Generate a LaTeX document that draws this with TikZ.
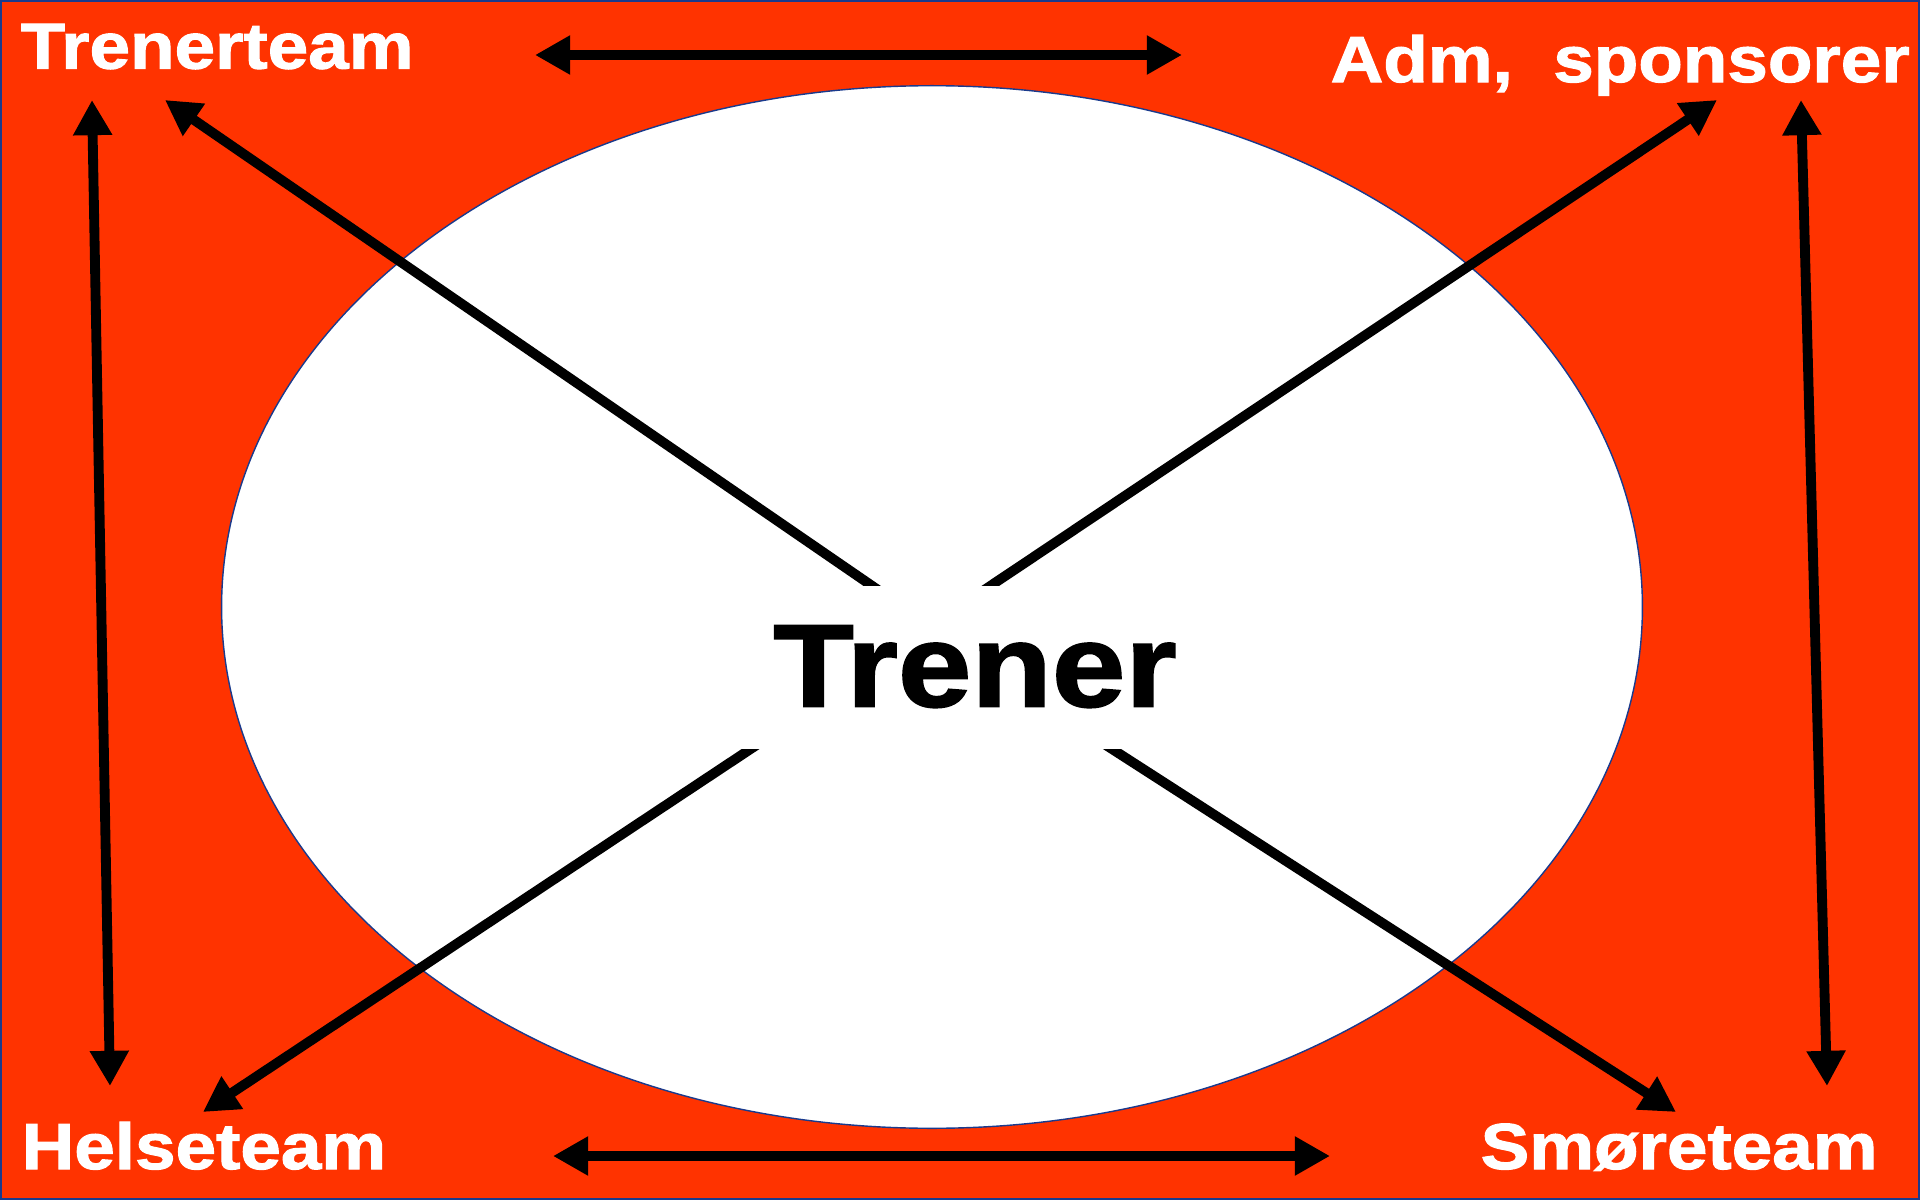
\documentclass[tikz,border=0pt]{standalone}
\usepackage{fontspec}
\newfontfamily\lab{Liberation Sans}[FakeStretch=1.12,FakeBold=1.6]
\usetikzlibrary{arrows.meta,shapes.geometric,calc}
\definecolor{bgred}{HTML}{FF3300}
\definecolor{edgeblue}{HTML}{1A3A8C}
\begin{document}
\begin{tikzpicture}[x=0.01cm,y=-0.01cm,
  tip/.tip={Triangle[length=10pt,width=10.5pt]},
  arr/.style={line width=2.8pt, tip-tip},
  one/.style={line width=2.8pt, -tip},
  lbl/.style={font=\lab\bfseries\fontsize{18.5}{20}\selectfont, text=white, inner sep=0pt},
  big/.style={font=\lab\bfseries\fontsize{33.5}{36}\selectfont, text=black, inner sep=0pt}]
\useasboundingbox (0,0) rectangle (1920,1200);
\fill[bgred, draw=edgeblue, line width=0.6pt] (1,1) rectangle (1919,1199);
\node[ellipse, minimum width=14.2cm, minimum height=10.42cm, inner sep=0pt,
      fill=white, draw=edgeblue, line width=0.4pt] (oval) at (932,607) {};
% labels
\node[lbl, anchor=base west] (trenerteam) at (20,68.6) {Trenerteam};
\node[lbl, anchor=base west] (adm) at (1330,82) {Adm,\ \ sponsorer};
\node[lbl, anchor=base west] (helse) at (21,1169) {Helseteam};
\node[lbl, anchor=base west] (smore) at (1480,1169) {Smøreteam};
% connector ends
\coordinate (t1) at (535,55);   \coordinate (t2) at (1182,55);
\coordinate (b1) at (553,1156); \coordinate (b2) at (1330,1156);
\coordinate (l1) at (92,100);   \coordinate (l2) at (110,1086);
\coordinate (r1) at (1801,100); \coordinate (r2) at (1827,1086);
\coordinate (dtl) at (165,100);  \coordinate (ctl) at (873,586.5);
\coordinate (dtr) at (1717,100); \coordinate (ctr) at (989.5,586.5);
\coordinate (dbl) at (203,1112); \coordinate (cbl) at (750.6,749);
\coordinate (dbr) at (1676,1112);\coordinate (cbr) at (1112,749);
\draw[arr] (t1) -- (t2);
\draw[arr] (b1) -- (b2);
\draw[arr] (l1) -- (l2);
\draw[arr] (r1) -- (r2);
\draw[one] ($(ctl)!-0.3cm!(dtl)$) -- (dtl);
\draw[one] ($(ctr)!-0.3cm!(dtr)$) -- (dtr);
\draw[one] ($(cbl)!-0.3cm!(dbl)$) -- (dbl);
\draw[one] ($(cbr)!-0.3cm!(dbr)$) -- (dbr);
% centre
\node[fill=white, minimum width=5.1cm, minimum height=1.625cm, inner sep=0pt] (hole) at (955,667.75) {};
\node[big, anchor=base] (trener) at (975,706.5) {Trener};
\end{tikzpicture}
\end{document}
